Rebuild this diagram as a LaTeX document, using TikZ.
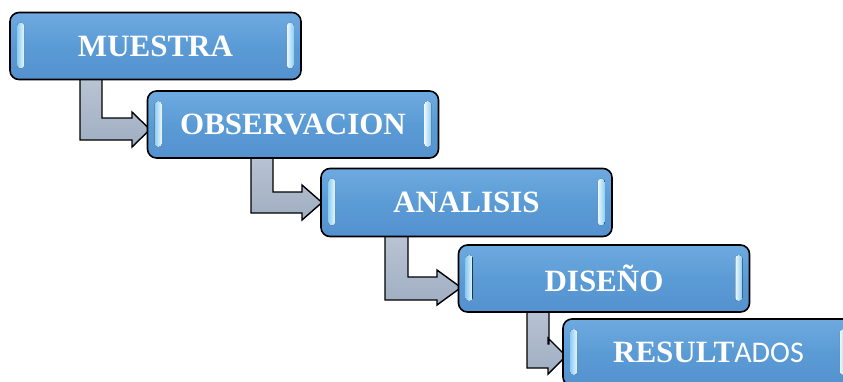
\documentclass[tikz,border=0pt]{standalone}
\usepackage{fontspec}
\setmainfont{Liberation Serif}
\newfontfamily\carlitofont{Carlito}
\usetikzlibrary{calc}
\definecolor{boxmid}{HTML}{5B9BD5}
\definecolor{boxtop}{HTML}{6EAAE0}
\definecolor{boxbot}{HTML}{5492CF}
\definecolor{stripelight}{HTML}{EAF8FF}
\definecolor{stripedark}{HTML}{8FCDF0}
\definecolor{arrlight}{HTML}{C4CEDC}
\definecolor{arrdark}{HTML}{A0AEC2}
\tikzset{
  stepbox/.style={rectangle, rounded corners=9pt, draw=black, line width=1.6pt,
    top color=boxtop, bottom color=boxbot, middle color=boxmid,
    minimum width=291pt, minimum height=67pt, inner sep=0pt,
    text=white, font=\fontsize{31}{36}\selectfont\bfseries},
  bentarrow/.style={draw=black, line width=1.4pt, line join=miter,
    top color=arrlight, bottom color=arrdark},
  stripeL/.style={rounded corners=3pt, left color=stripedark, right color=stripelight},
  stripeR/.style={rounded corners=3pt, left color=stripelight, right color=stripedark}
}
\newcommand\boxstripes[1]{%
  \fill[stripeL] ($(#1.north west)+(8,11)$) rectangle ($(#1.south west)+(15,-12)$);
  \fill[stripeR] ($(#1.north east)+(-15,11)$) rectangle ($(#1.south east)+(-8,-12)$);
}
\begin{document}
\begin{tikzpicture}[x=1pt,y=-1pt]
\useasboundingbox (0,0) rectangle (843,381);
\clip (0,0) rectangle (843,381);
% connectors (drawn behind the boxes)
\coordinate (c1) at (155.5,46);
\coordinate (c2) at (293,124.5);
\coordinate (c3) at (466.5,202.5);
\coordinate (c4) at (604,278.5);
\coordinate (c5) at (708.5,352.5);
\draw[bentarrow] (80,46) -- (80,140) -- (132,140) -- (132,147) -- (150,129.5)
  -- (132,112) -- (132,118) -- (102,118) -- (102,46) -- cycle;
\draw[bentarrow] (251,124) -- (251,213) -- (302,213) -- (302,220) -- (322,202.5)
  -- (302,185) -- (302,192) -- (273,192) -- (273,124) -- cycle;
\draw[bentarrow] (385,202) -- (385,300) -- (437,300) -- (437,305) -- (461,287.5)
  -- (437,270) -- (437,277) -- (408,277) -- (408,202) -- cycle;
\draw[bentarrow] (527,278) -- (527,368) -- (548,368) -- (548,374) -- (566,356)
  -- (548,338) -- (548,344) -- (549,344) -- (549,278) -- cycle;
% boxes
\node[stepbox] (m1) at (c1) {MUESTRA};
\boxstripes{m1}
\node[stepbox] (m2) at (c2) {OBSERVACION};
\boxstripes{m2}
\node[stepbox, minimum height=68pt] (m3) at (c3) {ANALISIS};
\boxstripes{m3}
\node[stepbox] (m4) at (c4) {DISEÑO};
\boxstripes{m4}
\node[stepbox] (m5) at (c5) {RESULT{\carlitofont\mdseries\fontsize{30}{36}\selectfont ADOS}};
\boxstripes{m5}
\end{tikzpicture}
\end{document}
